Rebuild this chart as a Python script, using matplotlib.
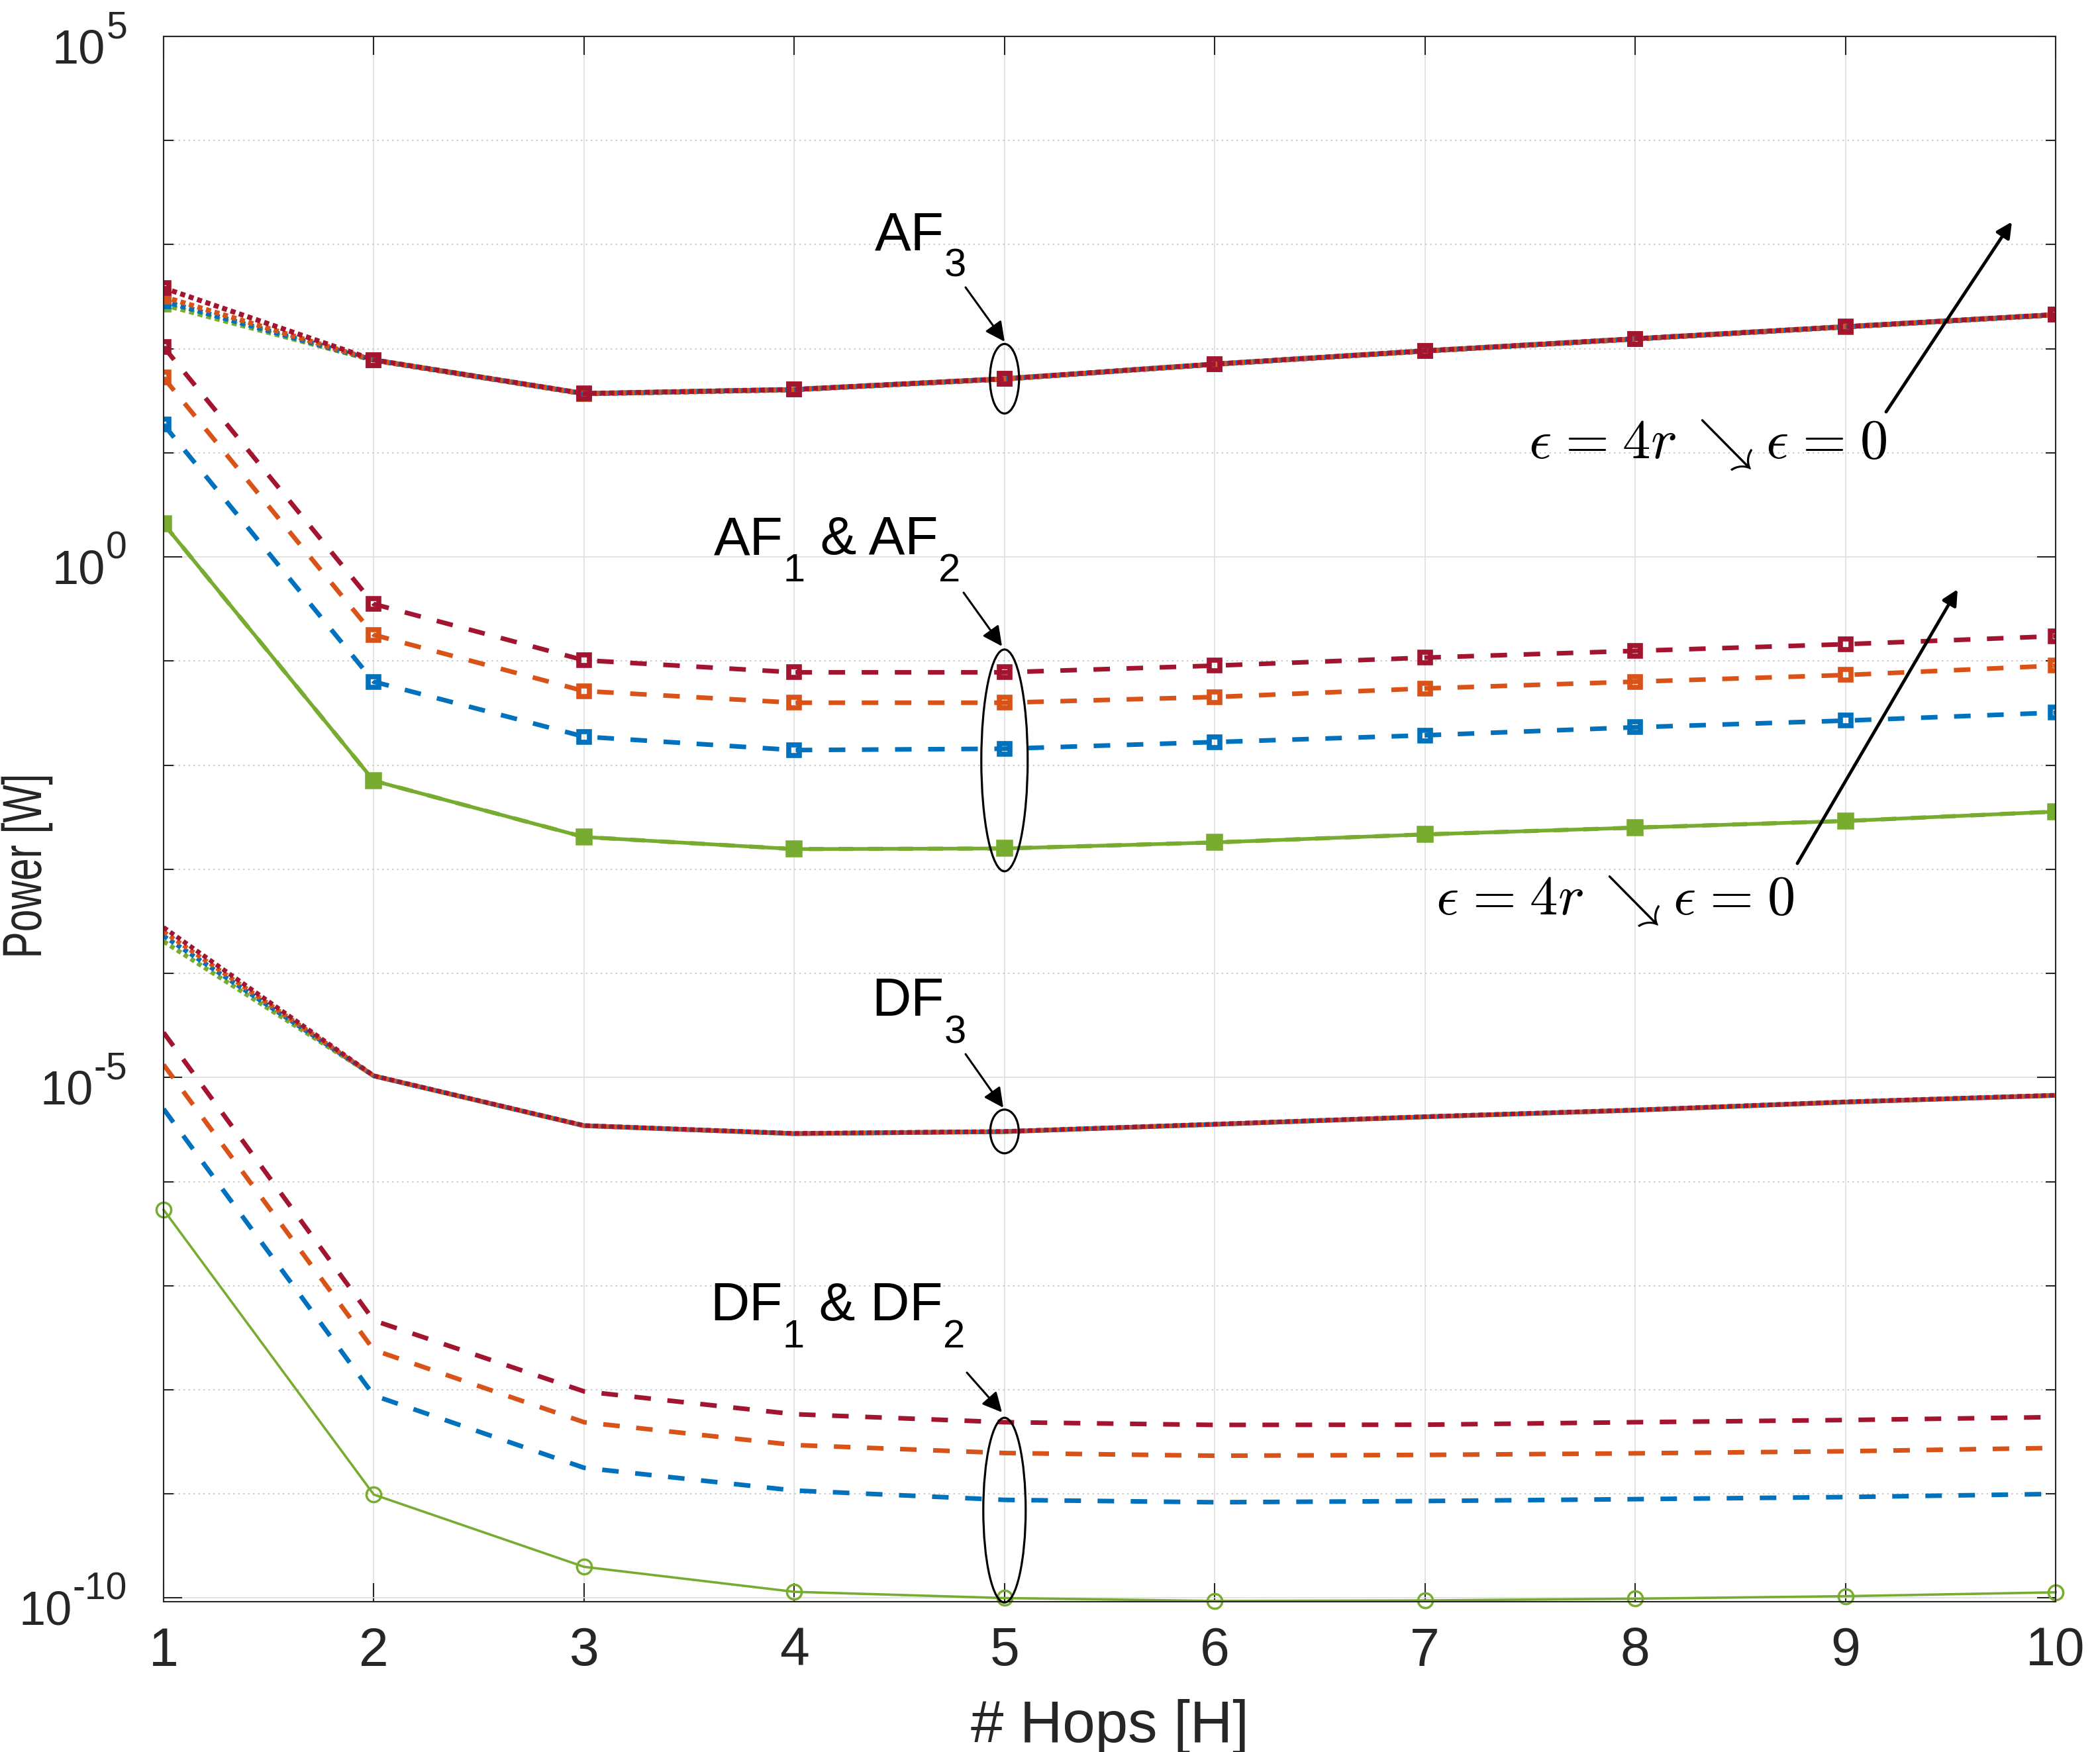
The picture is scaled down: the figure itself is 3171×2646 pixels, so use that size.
import numpy as np
import matplotlib
matplotlib.use("Agg")
import matplotlib.pyplot as plt
from matplotlib.patches import Ellipse
from matplotlib.transforms import IdentityTransform, Affine2D
from matplotlib.ticker import FixedLocator, NullFormatter
from matplotlib.patheffects import AbstractPathEffect

plt.rcParams['font.family'] = ['Liberation Sans', 'DejaVu Sans']
plt.rcParams['mathtext.fontset'] = 'dejavusans'

# ---------------- data (log10 of power in W) ----------------
hops = np.arange(1, 11)
ytick_exponents = [-10, -5, 0, 5]

# AF3 (dotted, squares) -- four epsilon values nearly coincide
af3_green  = [2.423, 1.890, 1.568, 1.607, 1.710, 1.851, 1.978, 2.094, 2.210, 2.326]
af3_blue   = [2.456, 1.890, 1.568, 1.607, 1.710, 1.851, 1.978, 2.094, 2.210, 2.326]
af3_orange = [2.500, 1.890, 1.568, 1.607, 1.710, 1.851, 1.978, 2.094, 2.210, 2.326]
af3_red    = [2.584, 1.893, 1.570, 1.609, 1.712, 1.853, 1.980, 2.096, 2.212, 2.328]

# AF2 (dashed, squares)
af2_blue   = [1.272, -1.198, -1.726, -1.855, -1.842, -1.778, -1.713, -1.636, -1.572, -1.495]
af2_orange = [1.722, -0.748, -1.288, -1.400, -1.400, -1.345, -1.263, -1.198, -1.134, -1.044]
af2_red    = [2.018, -0.452, -0.992, -1.108, -1.108, -1.044, -0.967, -0.902, -0.838, -0.761]
af2_green  = [0.320, -2.150, -2.690, -2.806, -2.800, -2.742, -2.665, -2.600, -2.536, -2.446]
# AF1 (solid, squares)
af1_green  = [0.320, -2.150, -2.690, -2.806, -2.800, -2.742, -2.665, -2.600, -2.536, -2.446]

# DF3 (dotted, no markers)
df3_green  = [-3.693, -4.985, -5.463, -5.539, -5.520, -5.450, -5.378, -5.314, -5.236, -5.172]
df3_blue   = [-3.640, -4.985, -5.463, -5.539, -5.520, -5.450, -5.378, -5.314, -5.236, -5.172]
df3_orange = [-3.600, -4.985, -5.463, -5.539, -5.520, -5.450, -5.378, -5.314, -5.236, -5.172]
df3_red    = [-3.558, -4.983, -5.461, -5.537, -5.518, -5.448, -5.376, -5.312, -5.234, -5.170]

# DF2 (dashed)
df2_blue   = [-5.302, -8.054, -8.749, -8.967, -9.057, -9.080, -9.068, -9.050, -9.030, -9.000]
df2_orange = [-4.877, -7.617, -8.311, -8.530, -8.607, -8.633, -8.625, -8.610, -8.590, -8.558]
df2_red    = [-4.568, -7.334, -8.015, -8.234, -8.311, -8.337, -8.335, -8.311, -8.290, -8.262]
# DF1 (solid, circles)
df1_green  = [-6.270, -9.006, -9.700, -9.940, -10.000, -10.028, -10.023, -10.006, -9.982, -9.945]

C_BLUE = (0.0, 0.447, 0.741)
C_ORANGE = (0.850, 0.325, 0.098)
C_GREEN = (0.466, 0.674, 0.188)
C_RED = (0.635, 0.078, 0.184)

W, H = 3171, 2646
DPI = 100
fig = plt.figure(figsize=(W / DPI, H / DPI), dpi=DPI)
ax = fig.add_axes([247 / W, 1 - 2419 / H, (3104 - 247) / W, (2419 - 55) / H])
ax.set_yscale('log')


def p(v):
    return 10.0 ** np.asarray(v)


DOT = (1.0, 0.75)
DASH = (3.6, 3.6)
sq = dict(marker='s', markersize=12, markeredgewidth=5.5, markerfacecolor='none')

# AF3
for vals, c in [(af3_green, C_GREEN), (af3_blue, C_BLUE), (af3_orange, C_ORANGE), (af3_red, C_RED)]:
    ax.plot(hops, p(vals), color=c, lw=5.5, dashes=DOT, markeredgecolor=c, **sq)

# AF1 / AF2
ax.plot(hops, p(af1_green), color=C_GREEN, lw=4.0, marker='s', markersize=14,
        markeredgewidth=4, markerfacecolor=C_GREEN, markeredgecolor=C_GREEN)
ax.plot(hops, p(af2_green), color=C_GREEN, lw=4.5, dashes=DASH, markeredgecolor=C_GREEN, **sq)
for vals, c in [(af2_blue, C_BLUE), (af2_orange, C_ORANGE), (af2_red, C_RED)]:
    ax.plot(hops, p(vals), color=c, lw=5.0, dashes=DASH, markeredgecolor=c, **sq)

# DF3
for vals, c in [(df3_green, C_GREEN), (df3_blue, C_BLUE), (df3_orange, C_ORANGE), (df3_red, C_RED)]:
    ax.plot(hops, p(vals), color=c, lw=5.0, dashes=DOT)

# DF1 / DF2
for vals, c in [(df2_blue, C_BLUE), (df2_orange, C_ORANGE), (df2_red, C_RED)]:
    ax.plot(hops, p(vals), color=c, lw=5.0, dashes=DASH)
ax.plot(hops, p(df1_green), color=C_GREEN, lw=2.6, marker='o', markersize=16,
        markeredgewidth=2.5, markerfacecolor='none', markeredgecolor=C_GREEN, clip_on=False)

# ---------------- axes styling ----------------
ax.set_xlim(1, 10)
ax.set_ylim(10 ** -10.035, 1e5)
AXC = '#262626'
for s in ax.spines.values():
    s.set_color(AXC)
    s.set_linewidth(1.5)

ax.xaxis.set_major_locator(FixedLocator(list(range(1, 11))))
ax.yaxis.set_major_locator(FixedLocator([10.0 ** k for k in ytick_exponents]))
ax.yaxis.set_minor_locator(FixedLocator([10.0 ** k for k in range(-10, 6) if k % 5 != 0]))
ax.yaxis.set_major_formatter(NullFormatter())
ax.yaxis.set_minor_formatter(NullFormatter())
ax.xaxis.set_minor_locator(FixedLocator([]))

ax.tick_params(which='both', direction='in', top=True, right=True, color=AXC,
               labelcolor=AXC, width=1.5)
ax.tick_params(which='major', length=20)
ax.tick_params(which='minor', length=11)
ax.tick_params(axis='x', labelsize=58, pad=27)

ax.grid(True, which='major', color='#dfdfdf', lw=1.2, ls='-')
ax.grid(True, which='minor', axis='y', color='#c4c4c4', lw=1.2, ls=(0, (1.5, 3)))
ax.set_axisbelow(True)

ax.set_xlabel('# Hops [H]', fontsize=64, color=AXC, labelpad=24)

ID = IdentityTransform()
renderer = fig.canvas.get_renderer()


class Squash(AbstractPathEffect):
    """Scale glyph outlines about a display-space point (condensed lettering)."""

    def __init__(self, sx=1.0, sy=1.0, center=(0.0, 0.0)):
        super().__init__()
        self.sx, self.sy, self.c = sx, sy, center

    def draw_path(self, renderer, gc, tpath, affine, rgbFace=None):
        cx, cy = self.c
        t = affine + Affine2D().translate(-cx, -cy).scale(self.sx, self.sy).translate(cx, cy)
        renderer.draw_path(gc, tpath, t, rgbFace)


# y label: tall, condensed lettering as in the reference
ylab_xy = (40, H - 1308)
fig.text(ylab_xy[0], ylab_xy[1], 'Power [W]', transform=ID, rotation=90, ha='center',
         va='center', fontsize=60, color=AXC,
         path_effects=[Squash(sy=0.726, center=ylab_xy)])

# y tick labels drawn as "10" + raised exponent (MATLAB look, hyphen minus)
for k in ytick_exponents:
    ty = ax.transData.transform((1, 10.0 ** k))[1]
    te = fig.text(192, ty - 2, str(k), transform=ID, fontsize=41, ha='right',
                  va='baseline', color=AXC)
    we = te.get_window_extent(renderer).width
    fig.text(192 - we - 1, ty - 40, '10', transform=ID, fontsize=52, ha='right',
             va='baseline', color=AXC)

# ---------------- annotations ----------------


def img(x, y):
    """image pixel (from top-left) -> display pixel"""
    return (x, H - y)


def sub_label(parts, x0, y0, big=59, small=43, drop=41):
    x = x0
    for s, is_sub in parts:
        xd, yd = img(x, y0 + (drop if is_sub else 0))
        t = fig.text(xd, yd, s, transform=ID, fontsize=small if is_sub else big,
                     ha='left', va='baseline', color='k')
        x += t.get_window_extent(renderer).width


def arrow(tail, tip, lw=2.2, ms=45):
    ax.annotate('', xy=img(*tip), xycoords='figure pixels',
                xytext=img(*tail), textcoords='figure pixels',
                arrowprops=dict(arrowstyle='-|>', lw=lw, color='k', shrinkA=0, shrinkB=0,
                                mutation_scale=ms))


def ellipse(x, ylog, w, h):
    cx, cy = ax.transData.transform((x, 10 ** ylog))
    e = Ellipse((cx, cy), w, h, transform=ID, fill=False, lw=2.3, color='k', clip_on=False)
    fig.add_artist(e)


sub_label([('AF', False), ('3', True)], 1321, 377)
arrow((1458, 434), (1517, 516))
ellipse(5, af3_red[4], 44, 105)

sub_label([('AF', False), ('1', True), (' & AF', False), ('2', True)], 1078, 837)
arrow((1455, 895), (1513, 976))
ellipse(5, (af2_red[4] + af1_green[4]) / 2, 70, 335)

sub_label([('DF', False), ('3', True)], 1316, 1534)
arrow((1458, 1592), (1515, 1673))
ellipse(5, df3_red[4], 43, 66)

sub_label([('DF', False), ('1', True), (' & DF', False), ('2', True)], 1072, 1994)
arrow((1460, 2073), (1513, 2133))
ellipse(5, (df2_red[4] + df1_green[4]) / 2, 64, 279)

eps = (r'$\epsilon\hspace{0.08}=\hspace{0.08}4r\hspace{0.24}\searrow\hspace{0.05}'
       r'\epsilon\hspace{0.08}=\hspace{0.08}0$')
for (x0, y0), tail, tip in [((2308, 692), (2848, 622), (3038, 335)),
                            ((2168, 1381), (2714, 1304), (2956, 890))]:
    xd, yd = img(x0, y0)
    fig.text(xd, yd, eps, transform=ID, fontsize=61, ha='left', va='baseline',
             math_fontfamily='cm', color='k')
    arrow(tail, tip, lw=3.5, ms=35)

fig.savefig('out.png', dpi=DPI, facecolor='white')
